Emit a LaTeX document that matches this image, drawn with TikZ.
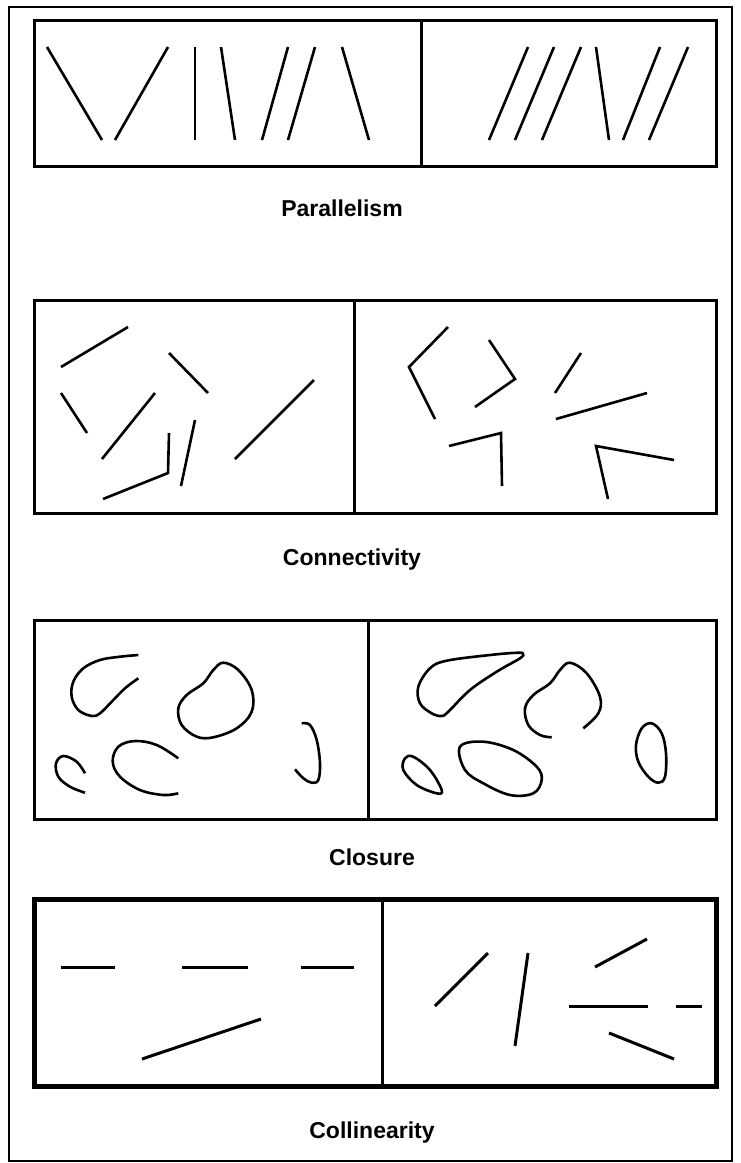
\documentclass[tikz,border=0pt]{standalone}
\usepackage{fontspec}
\setmainfont{Liberation Sans}
\usepackage{tikz}

\begin{document}
\begin{tikzpicture}[x=1pt,y=-1pt,
  panel/.style={line width=3pt},
  seg/.style={line width=2.6pt},
  loop/.style={line width=2.6pt,smooth,tension=0.6},
  lbl/.style={anchor=base,inner sep=0pt,font=\fontsize{23}{27}\selectfont\bfseries}]
\useasboundingbox (0,0) rectangle (740,1163);
\draw[line width=2pt] (9,7) rectangle (732,1161);
% (a) parallelism
\begin{scope}
  \draw[panel] (34,20) rectangle (716,166);
  \draw[panel] (421,20) -- (421,166);
  \foreach \xa/\xb in {47/102,168/115,195/195,221/235,288/262,315/288,342/369,
                       528/489,554/515,581/542,596/609,660/623,688/649}{
    \draw[seg] (\xa,47) -- (\xb,140);}
  \node[lbl] (parallelism) at (342,216.5) {Parallelism};
\end{scope}
% (b) connectivity
\begin{scope}
  \draw[panel] (34,300) rectangle (716,513);
  \draw[panel] (354.5,300) -- (354.5,513);
  \foreach \xa/\ya/\xb/\yb in {61/367/128/327,169/353/208/393,61/393/87/433,
                               155/393/102/459,195/420/181/486,314/380/235/459,
                               581/353/555/393,647/393/556/419}{
    \draw[seg] (\xa,\ya) -- (\xb,\yb);}
  \draw[seg] (169,433) -- (168,473) -- (103,499);
  \draw[seg] (448,327) -- (409,367) -- (435,419);
  \draw[seg] (489,340) -- (515,379) -- (475,407);
  \draw[seg] (449,446) -- (501,433) -- (502,486);
  \draw[seg] (674,460) -- (596,446) -- (608,499);
  \node[lbl] (connectivity) at (352,565) {Connectivity};
\end{scope}
% (c) closure
\begin{scope}
  \draw[panel] (34,620) rectangle (716,819);
  \draw[panel] (368.5,620) -- (368.5,819);
  % open shapes
  \draw[loop] plot coordinates {(138.3,655) (120,656.7) (100,660) (83.3,668.3) (73.3,681.7)
    (71.7,696.7) (78.3,710) (91.7,716) (100,713.3) (111.7,701.7) (125,688.3) (138.3,678.3)};
  \draw[loop] plot[smooth cycle] coordinates {(223.3,662.7) (213.3,670) (203.3,683.3) (186.7,695)
    (178.3,708.3) (181.7,725) (196.7,736.7) (213.3,737.3) (236.7,728.3) (251.7,711.7)
    (251.7,690) (238.3,670)};
  \draw[loop] plot coordinates {(85,773.3) (76.7,761.7) (63.3,756) (56,763.3) (58.3,776.7)
    (70,786.7) (85,792.7)};
  \draw[loop] plot coordinates {(178.3,758.3) (156.7,745) (135,741) (118.3,746.7) (112.7,761.7)
    (120,776.7) (140,790) (163.3,795) (178.3,793.3)};
  \draw[loop] plot coordinates {(301.7,723.3) (310,725) (316.7,740) (320,763.3) (318.3,780)
    (311.7,782.7) (303.3,778.3) (295,769.3)};
  % closed shapes
  \draw[loop] plot[smooth cycle] coordinates {(523,654) (518,652.7) (490,655) (446.7,660.7)
    (430,668.3) (418.3,686.7) (420,703.3) (431.7,713.3) (441.7,716) (448.3,711.7) (470,690)
    (496.7,671.7) (520,658.3)};
  \draw[loop] plot coordinates {(551.7,737.3) (540,735) (528.3,725) (525,708.3) (533.3,695)
    (550,683.3) (560,670) (570,662.7) (586.7,673.3) (600,696.7) (598.3,713.3) (583.3,728.3)};
  \draw[loop] plot[smooth cycle] coordinates {(405,758.3) (413.3,756.7) (430,770) (441.7,790)
    (436.7,793.3) (416.7,785) (403.3,770)};
  \draw[loop] plot[smooth cycle] coordinates {(460,746.7) (483.3,741.7) (513.3,750) (536.7,766.7)
    (541.7,780) (533.3,793.3) (510,795) (483.3,783.3) (465,770)};
  \draw[loop] plot[smooth cycle] coordinates {(651.7,723.3) (661.7,733.3) (666,753.3) (665,776.7)
    (658.3,782.7) (648.3,776.7) (638.3,761.7) (636,745) (641.7,728.3)};
  \node[lbl] (closure) at (372,865.5) {Closure};
\end{scope}
% (d) collinearity
\begin{scope}
  \draw[line width=5pt] (34.8,899.8) rectangle (716,1086);
  \draw[panel] (382,900) -- (382,1086);
  \foreach \xa/\ya/\xb/\yb in {61/967/115/967,182/967/248/967,301/967/354/967,
                               142/1059/261/1019,488/953/435/1006,528/953/515/1046,
                               647/939/595/967,569/1006/648/1006,676/1006/702/1006,
                               609/1033/674/1059}{
    \draw[seg,line width=3pt] (\xa,\ya) -- (\xb,\yb);}
  \node[lbl] (collinearity) at (372,1138) {Collinearity};
\end{scope}
\end{tikzpicture}
\end{document}
